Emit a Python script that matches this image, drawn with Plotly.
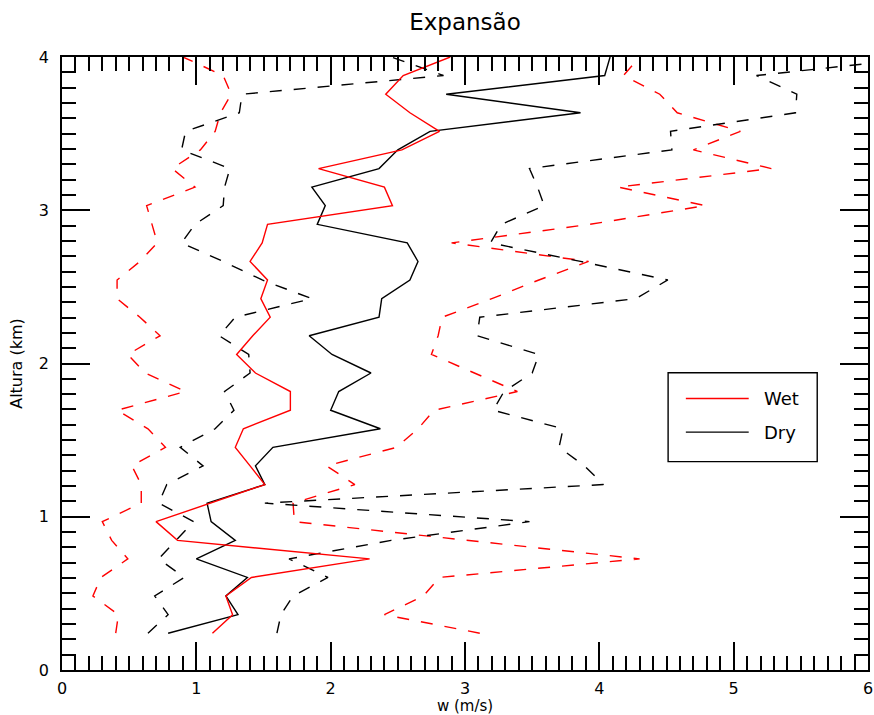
import plotly.graph_objects as go

# Heights (km) of each level
heights = [0.240, 0.361, 0.483, 0.604, 0.725, 0.846, 0.968, 1.089, 1.210, 1.332,
           1.453, 1.574, 1.695, 1.817, 1.938, 2.059, 2.181, 2.302, 2.423, 2.545,
           2.666, 2.787, 2.908, 3.030, 3.151, 3.272, 3.394, 3.515, 3.636, 3.757,
           3.879, 4.000]

# Wet (red) – mean, min, max (m/s)
wet_mean = [1.12, 1.27, 1.22, 1.41, 2.29, 0.86, 0.70, 1.10, 1.51, 1.40,
            1.29, 1.35, 1.70, 1.70, 1.44, 1.30, 1.42, 1.55, 1.48, 1.53,
            1.40, 1.49, 1.53, 2.46, 2.40, 1.91, 2.53, 2.81, 2.59, 2.41,
            2.54, 2.89]
wet_min = [0.40, 0.42, 0.23, 0.29, 0.49, 0.37, 0.30, 0.59, 0.59, 0.52,
           0.77, 0.64, 0.41, 0.92, 0.62, 0.49, 0.73, 0.58, 0.41, 0.41,
           0.58, 0.71, 0.67, 0.63, 0.99, 0.82, 1.03, 1.14, 1.18, 1.26,
           1.20, 0.90]
wet_max = [3.11, 2.40, 2.69, 2.81, 4.30, 3.00, 1.73, 1.72, 2.18, 1.97,
           2.49, 2.65, 2.77, 3.39, 3.07, 2.75, 2.80, 2.83, 3.20, 3.55,
           3.92, 2.90, 3.93, 4.79, 4.14, 5.28, 4.70, 5.05, 4.58, 4.45,
           4.18, 4.30]

# Dry (black) – mean, min, max (m/s)
dry_mean = [0.79, 1.31, 1.22, 1.38, 1.00, 1.29, 1.11, 1.08, 1.51, 1.44,
            1.57, 2.37, 2.00, 2.06, 2.30, 2.01, 1.84, 2.36, 2.38, 2.59,
            2.65, 2.57, 1.90, 1.96, 1.86, 2.36, 2.50, 2.74, 3.86, 2.86,
            4.04, 4.08]
dry_min = [0.64, 0.79, 0.69, 0.91, 0.72, 0.85, 0.98, 0.72, 0.78, 1.05,
           0.88, 1.14, 1.28, 1.21, 1.40, 1.39, 1.17, 1.29, 1.86, 1.49,
           1.20, 0.89, 0.99, 1.20, 1.21, 1.25, 0.89, 0.92, 1.32, 1.34,
           2.84, 2.45]
dry_max = [1.60, 1.63, 1.72, 1.98, 1.69, 2.45, 3.48, 1.51, 4.03, 3.89,
           3.70, 3.73, 3.21, 3.29, 3.50, 3.55, 3.09, 3.11, 4.27, 4.51,
           3.86, 3.19, 3.27, 3.59, 3.54, 3.48, 4.54, 4.53, 5.46, 5.47,
           5.17, 6.45]

RED = "#ff0000"
BLACK = "#000000"
DASH = "12px,12px"
FONT = "DejaVu Sans"

fig = go.Figure()

for xs, col in [(wet_min, RED), (wet_max, RED), (dry_min, BLACK), (dry_max, BLACK)]:
    fig.add_trace(go.Scatter(x=xs, y=heights, mode="lines", showlegend=False,
                             line=dict(color=col, width=1.4, dash=DASH)))

fig.add_trace(go.Scatter(x=dry_mean, y=heights, mode="lines", name="Dry",
                         showlegend=False, line=dict(color=BLACK, width=1.4)))
fig.add_trace(go.Scatter(x=wet_mean, y=heights, mode="lines", name="Wet",
                         showlegend=False, line=dict(color=RED, width=1.4)))

axis_common = dict(
    showline=True, linecolor=BLACK, linewidth=1.6, mirror="allticks",
    ticks="inside", ticklen=28, tickwidth=1.5, tickcolor=BLACK,
    showgrid=False, zeroline=False, tick0=0, dtick=1, automargin=False,
    tickfont=dict(family=FONT, size=16, color=BLACK),
    minor=dict(ticks="inside", ticklen=14, tickwidth=1.5, tickcolor=BLACK,
               dtick=0.1, showgrid=False),
)

fig.update_xaxes(range=[0, 6], **axis_common, ticklabelstandoff=3,
                 ticklabeloverflow="allow",
                 title=dict(text="w (m/s)", standoff=0,
                            font=dict(family=FONT, size=15, color=BLACK)))
fig.update_yaxes(range=[0, 4], **axis_common, ticklabelstandoff=8,
                 title=dict(text="Altura (km)", standoff=12,
                            font=dict(family=FONT, size=16, color=BLACK)))

# Legend box drawn manually
legend_items = [("Wet", RED, 0.443), ("Dry", BLACK, 0.388)]
shapes = [dict(type="rect", xref="paper", yref="paper",
               x0=0.752, x1=0.937, y0=0.340, y1=0.485,
               line=dict(color=BLACK, width=1.4), fillcolor="white", layer="above")]
annotations = []
for label, col, yy in legend_items:
    shapes.append(dict(type="line", xref="paper", yref="paper",
                       x0=0.774, x1=0.852, y0=yy, y1=yy,
                       line=dict(color=col, width=1.4), layer="above"))
    annotations.append(dict(text=label, xref="paper", yref="paper", x=0.869, y=yy,
                            xanchor="left", yanchor="middle", showarrow=False,
                            font=dict(family=FONT, size=18, color=BLACK)))

fig.update_layout(
    width=874, height=715,
    margin=dict(l=62, r=6, t=57, b=45),
    paper_bgcolor="white", plot_bgcolor="white",
    title=dict(text="Expansão", x=0.5, xref="paper", xanchor="center",
               y=0.969, yanchor="middle",
               font=dict(family=FONT, size=23, color=BLACK)),
    shapes=shapes, annotations=annotations,
    showlegend=False,
)

fig.write_html(
    "out.html",
    config={"displayModeBar": False},
    post_script="document.body.style.margin='0';document.body.style.overflow='hidden';",
)
